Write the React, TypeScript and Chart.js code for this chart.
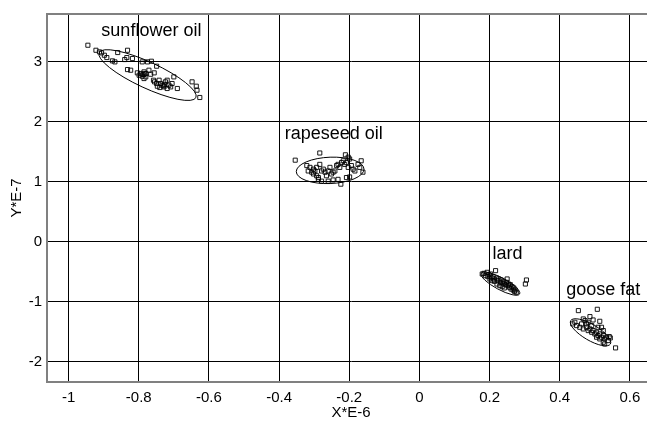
import React, { useEffect, useRef } from "react";
import { Chart, registerables } from "chart.js";

Chart.register(...registerables);

// ---- axes ----
const xTicks = [-1, -0.8, -0.6, -0.4, -0.2, 0, 0.2, 0.4, 0.6];
const xTickLabels = ["-1", "-0.8", "-0.6", "-0.4", "-0.2", "0", "0.2", "0.4", "0.6"];
const yTicks = [-2, -1, 0, 1, 2, 3];
const yTickLabels = ["-2", "-1", "0", "1", "2", "3"];
const xTitle = "X*E-6";
const yTitle = "Y*E-7";
const xRange = [-1.0615, 0.6717];
const yRange = [-2.341, 3.799];

// ---- series ----
const sunflower: [number, number][] = [
  [-0.945, 3.278], [-0.922, 3.194], [-0.912, 3.167], [-0.906, 3.15], [-0.898, 3.111],
  [-0.891, 3.072], [-0.875, 3.017], [-0.868, 3.0], [-0.86, 3.156], [-0.832, 3.194],
  [-0.84, 3.039], [-0.834, 3.072], [-0.818, 3.056], [-0.832, 2.872], [-0.823, 2.861],
  [-0.79, 3.0], [-0.775, 3.0], [-0.764, 3.011], [-0.749, 2.928], [-0.804, 2.817],
  [-0.794, 2.806], [-0.785, 2.833], [-0.78, 2.806], [-0.799, 2.778], [-0.79, 2.761],
  [-0.785, 2.722], [-0.78, 2.75], [-0.771, 2.861], [-0.766, 2.794], [-0.756, 2.817],
  [-0.758, 2.694], [-0.755, 2.667], [-0.749, 2.639], [-0.742, 2.694], [-0.738, 2.639],
  [-0.733, 2.611], [-0.728, 2.583], [-0.724, 2.667], [-0.719, 2.694], [-0.714, 2.611],
  [-0.705, 2.639], [-0.7, 2.75], [-0.69, 2.556], [-0.747, 2.594], [-0.74, 2.572],
  [-0.648, 2.667], [-0.636, 2.594], [-0.634, 2.528], [-0.626, 2.406], [-0.709, 2.583],
  [-0.719, 2.556], [-0.788, 2.79], [-0.783, 2.8], [-0.73, 2.6], [-0.726, 2.62],
];

const rapeseed: [number, number][] = [
  [-0.354, 1.36], [-0.284, 1.48], [-0.211, 1.45], [-0.203, 1.41], [-0.321, 1.27],
  [-0.312, 1.24], [-0.317, 1.18], [-0.307, 1.16], [-0.302, 1.13], [-0.298, 1.18],
  [-0.293, 1.1], [-0.288, 1.07], [-0.284, 1.29], [-0.279, 1.18], [-0.274, 1.21],
  [-0.269, 1.16], [-0.265, 1.1], [-0.26, 1.18], [-0.255, 1.24], [-0.251, 1.13],
  [-0.246, 1.16], [-0.241, 1.18], [-0.236, 1.27], [-0.232, 1.29], [-0.227, 1.24],
  [-0.222, 1.32], [-0.217, 1.35], [-0.213, 1.29], [-0.208, 1.32], [-0.203, 1.24],
  [-0.199, 1.38], [-0.194, 1.27], [-0.189, 1.21], [-0.184, 1.18], [-0.175, 1.29],
  [-0.17, 1.24], [-0.166, 1.35], [-0.161, 1.16], [-0.288, 1.04], [-0.279, 1.01],
  [-0.26, 1.01], [-0.246, 1.03], [-0.232, 1.04], [-0.224, 0.96], [-0.208, 1.07],
  [-0.199, 1.08], [-0.302, 1.21], [-0.293, 1.24],
];

const lard: [number, number][] = [
  [0.179, -0.539], [0.184, -0.528], [0.188, -0.567], [0.193, -0.511], [0.198, -0.55],
  [0.203, -0.539], [0.204, -0.594], [0.21, -0.583], [0.212, -0.622], [0.217, -0.483],
  [0.22, -0.606], [0.223, -0.65], [0.226, -0.622], [0.231, -0.678], [0.233, -0.639],
  [0.238, -0.694], [0.24, -0.661], [0.245, -0.717], [0.248, -0.678], [0.25, -0.622],
  [0.252, -0.733], [0.254, -0.706], [0.257, -0.761], [0.259, -0.717], [0.261, -0.789],
  [0.264, -0.75], [0.267, -0.806], [0.269, -0.772], [0.271, -0.828], [0.273, -0.806],
  [0.276, -0.844], [0.195, -0.583], [0.201, -0.622], [0.207, -0.65], [0.214, -0.661],
  [0.221, -0.706], [0.229, -0.733], [0.236, -0.75], [0.242, -0.772], [0.305, -0.639],
  [0.302, -0.706],
];

const gooseFat: [number, number][] = [
  [0.453, -1.15], [0.507, -1.128], [0.467, -1.289], [0.486, -1.25], [0.495, -1.306],
  [0.514, -1.328], [0.472, -1.317], [0.443, -1.344], [0.437, -1.372], [0.448, -1.4],
  [0.457, -1.428], [0.462, -1.372], [0.467, -1.456], [0.476, -1.428], [0.481, -1.483],
  [0.486, -1.456], [0.491, -1.511], [0.495, -1.483], [0.5, -1.539], [0.505, -1.511],
  [0.509, -1.567], [0.514, -1.539], [0.519, -1.594], [0.524, -1.483], [0.525, -1.567],
  [0.528, -1.622], [0.533, -1.594], [0.538, -1.65], [0.541, -1.583], [0.544, -1.606],
  [0.524, -1.678], [0.514, -1.622], [0.505, -1.594], [0.476, -1.372], [0.481, -1.344],
  [0.491, -1.4], [0.509, -1.428], [0.519, -1.428], [0.559, -1.772], [0.528, -1.706],
];

const groupNames = ["sunflower oil", "rapeseed oil", "lard", "goose fat"];
const groupLabelX = [-0.764, -0.244, 0.251, 0.524];
const groupLabelY = [3.433, 1.712, -0.288, -0.888];

// confidence ellipses: centre and two conjugate semi-axes (data units)
const ellipseCenterX = [-0.775, -0.2545, 0.2308, 0.4877];
const ellipseCenterY = [2.78, 1.19, -0.7, -1.512];
const ellipseAxisA: [number, number][] = [[0.138, -0.375], [0.0965, 0.02], [0.0548, -0.172], [0.0566, -0.195]];
const ellipseAxisB: [number, number][] = [[-0.0154, -0.197], [0, 0.22], [-0.0079, -0.088], [-0.0113, -0.115]];

const FONT = "'Liberation Sans', Arial, sans-serif";

const annotationPlugin = {
  id: "annotations",
  afterDatasetsDraw(chart: any) {
    const { ctx, chartArea, scales } = chart;
    const xs = scales.x;
    const ys = scales.y;
    ctx.save();
    ctx.beginPath();
    ctx.rect(chartArea.left, chartArea.top, chartArea.right - chartArea.left, chartArea.bottom - chartArea.top);
    ctx.clip();
    // ellipses
    ctx.strokeStyle = "#000";
    ctx.lineWidth = 1;
    for (let i = 0; i < ellipseCenterX.length; i++) {
      const cx = ellipseCenterX[i];
      const cy = ellipseCenterY[i];
      const p0x = xs.getPixelForValue(cx);
      const p0y = ys.getPixelForValue(cy);
      const ax = xs.getPixelForValue(cx + ellipseAxisA[i][0]) - p0x;
      const ay = ys.getPixelForValue(cy + ellipseAxisA[i][1]) - p0y;
      const bx = xs.getPixelForValue(cx + ellipseAxisB[i][0]) - p0x;
      const by = ys.getPixelForValue(cy + ellipseAxisB[i][1]) - p0y;
      ctx.save();
      ctx.beginPath();
      ctx.transform(ax, ay, bx, by, p0x, p0y);
      ctx.arc(0, 0, 1, 0, Math.PI * 2);
      ctx.restore();
      ctx.stroke();
    }
    // group labels
    ctx.fillStyle = "#000";
    ctx.font = `18px ${FONT}`;
    ctx.textAlign = "center";
    ctx.textBaseline = "alphabetic";
    for (let i = 0; i < groupNames.length; i++) {
      ctx.fillText(groupNames[i], xs.getPixelForValue(groupLabelX[i]), ys.getPixelForValue(groupLabelY[i]));
    }
    ctx.restore();
  },
  afterDraw(chart: any) {
    const { ctx, chartArea } = chart;
    ctx.save();
    ctx.strokeStyle = "#808080";
    ctx.lineWidth = 2;
    ctx.beginPath();
    ctx.moveTo(chartArea.left - 1, chartArea.top);
    ctx.lineTo(chartArea.right + 1, chartArea.top);
    ctx.stroke();
    ctx.restore();
  },
};

function makeDataset(pts: [number, number][], label: string) {
  return {
    type: "scatter" as const,
    label,
    data: pts.map(([x, y]) => ({ x, y })),
    pointStyle: "rect",
    pointRadius: 2.9,
    pointBorderWidth: 0.9,
    borderColor: "#000",
    backgroundColor: "rgba(0,0,0,0)",
    pointBackgroundColor: "rgba(0,0,0,0)",
    pointBorderColor: "#000",
  };
}

export default function App() {
  const ref = useRef<HTMLCanvasElement | null>(null);
  useEffect(() => {
    if (!ref.current) return;
    const chart = new Chart(ref.current, {
      type: "scatter",
      data: {
        datasets: [
          makeDataset(sunflower, groupNames[0]),
          makeDataset(rapeseed, groupNames[1]),
          makeDataset(lard, groupNames[2]),
          makeDataset(gooseFat, groupNames[3]),
        ] as any,
      },
      options: {
        animation: false,
        responsive: false,
        devicePixelRatio: 1,
        layout: { padding: { top: 13, right: 1, left: 0, bottom: 0 } },
        plugins: { legend: { display: false }, tooltip: { enabled: false } },
        scales: {
          x: {
            type: "linear",
            min: xRange[0],
            max: xRange[1],
            afterBuildTicks: (s: any) => {
              s.ticks = xTicks.map((v) => ({ value: v }));
            },
            afterFit: (s: any) => {
              s.height = 41;
            },
            grid: { color: "#000", lineWidth: 1, drawTicks: false },
            border: { display: true, color: "#808080", width: 2 },
            ticks: {
              padding: 7,
              color: "#000",
              autoSkip: false,
              maxRotation: 0,
              font: { family: FONT, size: 15 },
              callback: (v: any) => xTickLabels[xTicks.indexOf(Number(v))] ?? "",
            },
            title: {
              display: true,
              text: xTitle,
              color: "#000",
              font: { family: FONT, size: 15 },
              padding: { top: 0, bottom: 1 },
            },
          },
          y: {
            type: "linear",
            min: yRange[0],
            max: yRange[1],
            afterBuildTicks: (s: any) => {
              s.ticks = yTicks.map((v) => ({ value: v }));
            },
            afterFit: (s: any) => {
              s.width = 47;
            },
            grid: { color: "#000", lineWidth: 1, drawTicks: false },
            border: { display: true, color: "#808080", width: 2 },
            ticks: {
              padding: 5,
              color: "#000",
              autoSkip: false,
              font: { family: FONT, size: 15 },
              callback: (v: any) => yTickLabels[yTicks.indexOf(Number(v))] ?? "",
            },
            title: {
              display: true,
              text: yTitle,
              color: "#000",
              font: { family: FONT, size: 15 },
              padding: { top: 8, bottom: 0 },
            },
          },
        },
      },
      plugins: [annotationPlugin],
    } as any);
    return () => chart.destroy();
  }, []);
  return (
    <div
      style={{
        position: "fixed",
        left: 0,
        top: 0,
        width: 647,
        height: 423,
        overflow: "hidden",
        background: "#fff",
      }}
    >
      <canvas ref={ref} width={660} height={423} style={{ display: "block" }} />
    </div>
  );
}
